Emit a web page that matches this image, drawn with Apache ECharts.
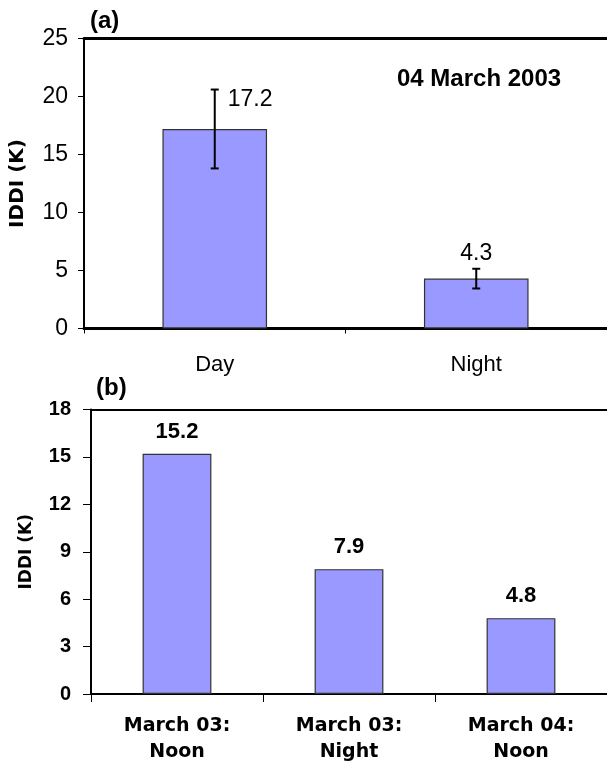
<!DOCTYPE html>
<html>
<head>
<meta charset="utf-8">
<script src="https://cdn.jsdelivr.net/npm/echarts@6/dist/echarts.min.js"></script>
<style>
html,body{margin:0;padding:0;background:#fff;}
#chart{width:607px;height:765px;}
</style>
</head>
<body>
<div id="chart"></div>
<script>
// Panel (a)
const categoriesA = ['Day', 'Night'];
const valuesA = [17.2, 4.3];
const errorsA = [3.4, 0.85];
// Panel (b)
const categoriesB = ['March 03:\nNoon', 'March 03:\nNight', 'March 04:\nNoon'];
const valuesB = [15.2, 7.9, 4.8];

const NARROW = '"Liberation Sans Narrow", "Arial Narrow", "Liberation Sans", Arial, sans-serif';
const ARIAL = '"Liberation Sans", Arial, sans-serif';
const DEJAVU = '"DejaVu Sans", Verdana, sans-serif';
const BAR_COLOR = '#9999ff';

const chart = echarts.init(document.getElementById('chart'), null, {renderer: 'canvas'});

const option = {
  backgroundColor: '#ffffff',
  animation: false,
  grid: [
    {left: 84, top: 38.5, width: 528, height: 290},
    {left: 91, top: 409.5, width: 523, height: 288}
  ],
  xAxis: [
    {
      gridIndex: 0, type: 'category', data: categoriesA, position: 'bottom',
      axisLine: {lineStyle: {color: '#000', width: 3}},
      axisTick: {show: true, length: 5, lineStyle: {color: '#000', width: 1}},
      axisLabel: {color: '#000', fontFamily: NARROW, fontSize: 22, margin: 25}
    },
    {
      gridIndex: 0, type: 'category', data: categoriesA, position: 'top',
      axisLine: {lineStyle: {color: '#000', width: 3}},
      axisTick: {show: false}, axisLabel: {show: false}
    },
    {
      gridIndex: 1, type: 'category', data: categoriesB, position: 'bottom',
      axisLine: {lineStyle: {color: '#000', width: 2}},
      axisTick: {show: true, length: 8, lineStyle: {color: '#000', width: 1}},
      axisLabel: {color: '#000', fontFamily: DEJAVU, fontWeight: 'bold', fontSize: 19, lineHeight: 26, margin: 19}
    },
    {
      gridIndex: 1, type: 'category', data: categoriesB, position: 'top',
      axisLine: {lineStyle: {color: '#000', width: 2}},
      axisTick: {show: false}, axisLabel: {show: false}
    }
  ],
  yAxis: [
    {
      gridIndex: 0, type: 'value', min: 0, max: 25, interval: 5,
      name: 'IDDI (K)', nameLocation: 'middle', nameGap: 56,
      nameTextStyle: {color: '#000', fontFamily: DEJAVU, fontWeight: 'bold', fontSize: 20},
      axisLine: {show: true, lineStyle: {color: '#000', width: 2}},
      axisTick: {show: true, length: 6, lineStyle: {color: '#000', width: 1}},
      axisLabel: {color: '#000', fontFamily: NARROW, fontSize: 23, margin: 16},
      splitLine: {show: false}
    },
    {
      gridIndex: 1, type: 'value', min: 0, max: 18, interval: 3,
      name: 'IDDI (K)', nameLocation: 'middle', nameGap: 56,
      nameTextStyle: {color: '#000', fontFamily: DEJAVU, fontWeight: 'bold', fontSize: 17},
      axisLine: {show: true, lineStyle: {color: '#000', width: 2}},
      axisTick: {show: true, length: 8, lineStyle: {color: '#000', width: 1}},
      axisLabel: {color: '#000', fontFamily: ARIAL, fontWeight: 'bold', fontSize: 20, margin: 20},
      splitLine: {show: false}
    }
  ],
  graphic: [
    {type: 'text', left: 90, top: 9, style: {text: '(a)', fontFamily: ARIAL, fontWeight: 'bold', fontSize: 24, fill: '#000'}},
    {type: 'text', left: 397, top: 67, style: {text: '04 March 2003', fontFamily: ARIAL, fontWeight: 'bold', fontSize: 24, fill: '#000'}},
    {type: 'text', left: 96, top: 376, style: {text: '(b)', fontFamily: ARIAL, fontWeight: 'bold', fontSize: 24, fill: '#000'}}
  ],
  series: [
    {
      type: 'bar', xAxisIndex: 0, yAxisIndex: 0,
      data: valuesA, barCategoryGap: '60%',
      itemStyle: {color: BAR_COLOR, borderColor: '#333', borderWidth: 1.2},
      label: {show: false}
    },
    {
      type: 'custom', xAxisIndex: 0, yAxisIndex: 0,
      data: categoriesA.map((c, i) => [i, valuesA[i], errorsA[i]]),
      z: 5,
      renderItem: function (params, api) {
        const i = api.value(0), v = api.value(1), e = api.value(2);
        const top = api.coord([i, v + e]);
        const bot = api.coord([i, v - e]);
        const cap = 4;
        const st = {stroke: '#000', lineWidth: 2};
        const lbl = params.dataIndex === 0
          ? {text: v.toFixed(1), x: top[0] + 13, y: top[1] + 10, align: 'left', verticalAlign: 'middle'}
          : {text: v.toFixed(1), x: top[0], y: top[1] - 15, align: 'center', verticalAlign: 'middle'};
        lbl.fontFamily = NARROW;
        lbl.fontSize = 23;
        lbl.fill = '#000';
        return {
          type: 'group',
          children: [
            {type: 'line', shape: {x1: top[0], y1: top[1], x2: bot[0], y2: bot[1]}, style: st},
            {type: 'line', shape: {x1: top[0] - cap, y1: top[1], x2: top[0] + cap, y2: top[1]}, style: st},
            {type: 'line', shape: {x1: bot[0] - cap, y1: bot[1], x2: bot[0] + cap, y2: bot[1]}, style: st},
            {type: 'text', style: lbl}
          ]
        };
      }
    },
    {
      type: 'bar', xAxisIndex: 2, yAxisIndex: 1,
      data: valuesB, barCategoryGap: '60%',
      itemStyle: {color: BAR_COLOR, borderColor: '#333', borderWidth: 1.2},
      label: {
        show: true, position: 'top', distance: 11,
        color: '#000', fontFamily: ARIAL, fontWeight: 'bold', fontSize: 22,
        formatter: p => p.value.toFixed(1)
      }
    }
  ]
};
chart.setOption(option);
</script>
</body>
</html>
